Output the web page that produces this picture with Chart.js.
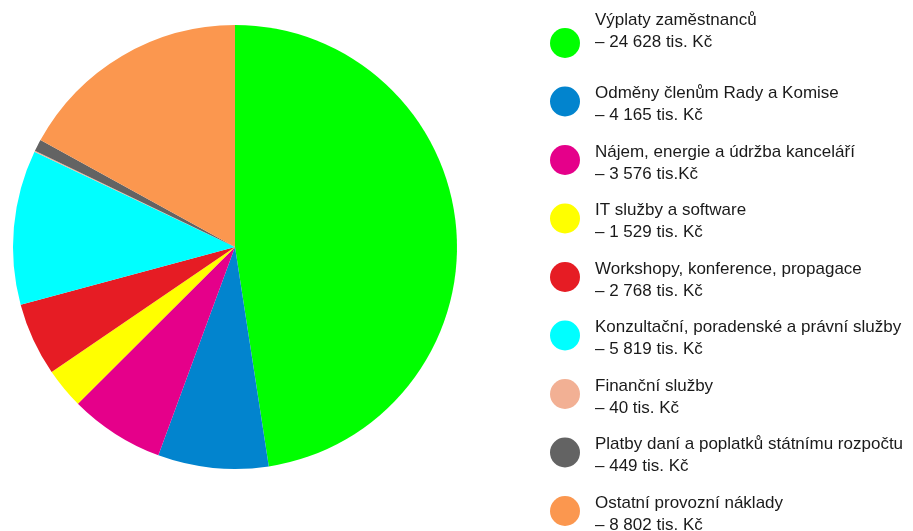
<!DOCTYPE html>
<html>
<head>
<meta charset="utf-8">
<script src="https://cdn.jsdelivr.net/npm/chart.js@4/dist/chart.umd.min.js"></script>
<style>
  html, body { margin: 0; padding: 0; background: #fff; }
  #wrap { width: 913px; height: 531px; }
</style>
</head>
<body>
<div id="wrap"><canvas id="costs"></canvas></div>
<script>
var labels = ["Výplaty zaměstnanců", "Odměny členům Rady a Komise", "Nájem, energie a údržba kanceláří",
  "IT služby a software", "Workshopy, konference, propagace", "Konzultační, poradenské a právní služby",
  "Finanční služby", "Platby daní a poplatků státnímu rozpočtu", "Ostatní provozní náklady"];
var values = [24628, 4165, 3576, 1529, 2768, 5819, 40, 449, 8802];
var valueTexts = ["– 24 628 tis. Kč", "– 4 165 tis. Kč", "– 3 576 tis.Kč", "– 1 529 tis. Kč", "– 2 768 tis. Kč",
  "– 5 819 tis. Kč", "– 40 tis. Kč", "– 449 tis. Kč", "– 8 802 tis. Kč"];
var colors = ['#00FF00', '#0284CE', '#E5008A', '#FFFF00', '#E61C24', '#00FFFF', '#F2B094', '#636363', '#FB974F'];

// legend drawn next to the pie, two lines per item
var sideLegend = {
  id: 'sideLegend',
  afterDraw: function(chart) {
    var ctx = chart.ctx;
    ctx.save();
    ctx.font = '17px "Liberation Sans", Arial, sans-serif';
    ctx.textBaseline = 'middle';
    for (var i = 0; i < labels.length; i++) {
      var cy = 43 + i * 58.5;
      ctx.beginPath();
      ctx.arc(565, cy, 15, 0, Math.PI * 2);
      ctx.fillStyle = colors[i];
      ctx.fill();
      var ty = i === 0 ? cy - 23 : cy - 8;
      ctx.fillStyle = '#1a1a1a';
      ctx.fillText(labels[i], 595, ty);
      ctx.fillText(valueTexts[i], 595, ty + 22);
    }
    ctx.restore();
  }
};

var costs = document.getElementById('costs');
var costsChart = new Chart(costs, {
  type: 'pie',
  data: {
    labels: labels,
    datasets: [
      {
        data: values,
        backgroundColor: colors,
        borderWidth: 0
      }
    ]
  },
  options: {
    responsive: true,
    maintainAspectRatio: false,
    animation: false,
    layout: { padding: { left: 13, top: 25, bottom: 62, right: 456 } },
    plugins: {
      legend: { display: false },
      tooltip: { enabled: false }
    }
  },
  plugins: [sideLegend]
});
</script>
</body>
</html>
